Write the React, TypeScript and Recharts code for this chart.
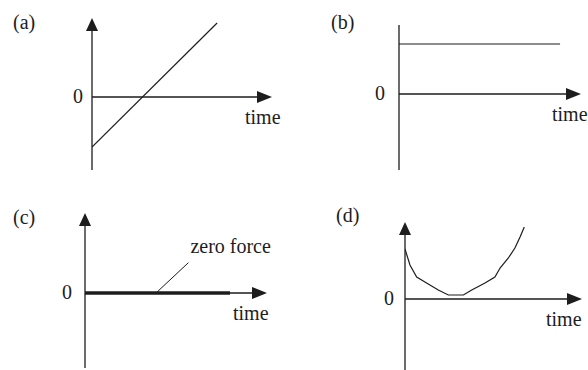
import React from 'react';
import { LineChart, Line, XAxis, YAxis, ReferenceLine } from 'recharts';

const W = 588;
const H = 370;

// (a) force grows steadily, crossing zero
const aTime = [0, 6.95];
const aForce = [-5.0, 7.4];
// (b) constant positive force
const bTime = [0, 8.85];
const bForce = [5.0, 5.0];
// (c) zero force all the way
const cTime = [0, 7.97];
const cForce = [0, 0];
// (d) force falls towards zero then rises again
const dTime = [0, 0.28, 0.66, 1.22, 1.88, 2.45, 3.3, 3.77, 4.52, 5.08, 5.37, 5.84, 6.21, 6.5, 6.74];
const dForce = [5.0, 3.4, 2.2, 1.6, 0.9, 0.4, 0.4, 0.9, 1.6, 2.2, 3.1, 4.1, 5.1, 6.2, 7.2];

// leader from the flat line in (c) up to its note
const noteTime = [3.96, 5.68];
const noteForce = [0.1, 3.03];

const panelLabels = ['(a)', '(b)', '(c)', '(d)'];
const zeroLabel = '0';
const timeLabel = 'time';
const noteLabel = 'zero force';

const ink = '#1d1d1d';
const font = '"Liberation Serif", "DejaVu Serif", serif';
const fontSize = 20;
const tMax = 10;
const pxPerUnit = 10;

type Layout = {
  x0: number; tipX: number; axisY: number; yTop: number; yBottom: number;
  arrowUp: boolean; labelX: number; labelY: number; zeroGap: number; timeShift: number;
};

const layouts: Layout[] = [
  { x0: 92, tipX: 272, axisY: 97, yTop: 18, yBottom: 170, arrowUp: true, labelX: 13, labelY: 29, zeroGap: 14, timeShift: -27 },
  { x0: 399, tipX: 581, axisY: 94, yTop: 25, yBottom: 170, arrowUp: false, labelX: 331, labelY: 28.5, zeroGap: 19, timeShift: -29 },
  { x0: 85, tipX: 267, axisY: 293, yTop: 213, yBottom: 368, arrowUp: true, labelX: 13, labelY: 224, zeroGap: 18, timeShift: -34 },
  { x0: 405, tipX: 582, axisY: 299, yTop: 222, yBottom: 372, arrowUp: true, labelX: 336, labelY: 222, zeroGap: 16, timeShift: -36 },
];

const rows = (ts: number[], fs: number[]) => ts.map((t, i) => ({ t, f: fs[i] }));

const textStyle = { fontFamily: font, fontSize, fill: ink };

const TimeAxis = (lay: Layout) => (p: any) => (
  <g>
    <line x1={p.x1} y1={p.y1} x2={p.x2 - 10} y2={p.y2} stroke={ink} strokeWidth={1.3} />
    <polygon points={`${p.x2},${p.y2} ${p.x2 - 15},${p.y2 - 6} ${p.x2 - 15},${p.y2 + 6}`} fill={ink} />
    <text x={p.x1 - lay.zeroGap} y={p.y1 + 6} textAnchor="middle" style={textStyle}>{zeroLabel}</text>
    <text x={p.x2 + lay.timeShift} y={p.y2 + 27} style={textStyle}>{timeLabel}</text>
  </g>
);

const ForceAxis = (lay: Layout, label: string) => (p: any) => (
  <g>
    <line x1={p.x1} y1={p.y1} x2={p.x2} y2={lay.arrowUp ? p.y2 + 10 : p.y2} stroke={ink} strokeWidth={1.3} />
    {lay.arrowUp && (
      <polygon points={`${p.x2},${p.y2} ${p.x2 - 6},${p.y2 + 13} ${p.x2 + 6},${p.y2 + 13}`} fill={ink} />
    )}
    <text x={lay.labelX} y={lay.labelY} style={textStyle}>{label}</text>
  </g>
);

const Leader = (p: any) => (
  <g>
    <line x1={p.x1} y1={p.y1} x2={p.x2} y2={p.y2} stroke={ink} strokeWidth={1} />
    <text x={p.x2 + 2} y={p.y2 - 10} style={textStyle}>{noteLabel}</text>
  </g>
);

const Panel = ({ idx, data, width = 1.2 }: { idx: number; data: { t: number; f: number }[]; width?: number }) => {
  const lay = layouts[idx];
  const yMax = (lay.axisY - lay.yTop) / pxPerUnit;
  const yMin = -(lay.yBottom - lay.axisY) / pxPerUnit;
  return (
    <div style={{ position: 'absolute', left: 0, top: 0 }}>
      <LineChart
        width={W}
        height={H}
        margin={{ left: lay.x0, right: W - lay.tipX, top: lay.yTop, bottom: H - lay.yBottom }}
      >
        <XAxis dataKey="t" type="number" domain={[0, tMax]} allowDataOverflow hide />
        <YAxis type="number" domain={[yMin, yMax]} allowDataOverflow hide />
        <ReferenceLine
          segment={[{ x: 0, y: yMin }, { x: 0, y: yMax }]}
          ifOverflow="visible"
          shape={ForceAxis(lay, panelLabels[idx])}
        />
        <ReferenceLine
          segment={[{ x: 0, y: 0 }, { x: tMax, y: 0 }]}
          ifOverflow="visible"
          shape={TimeAxis(lay)}
        />
        {idx === 2 && (
          <ReferenceLine
            segment={[{ x: noteTime[0], y: noteForce[0] }, { x: noteTime[1], y: noteForce[1] }]}
            ifOverflow="visible"
            shape={Leader}
          />
        )}
        <Line
          data={data}
          dataKey="f"
          type="linear"
          stroke={ink}
          strokeWidth={width}
          dot={false}
          activeDot={false}
          isAnimationActive={false}
        />
      </LineChart>
    </div>
  );
};

export default function App() {
  return (
    <div style={{ position: 'absolute', left: 0, top: 0, width: W, height: H, overflow: 'hidden', background: '#fff' }}>
      <Panel idx={0} data={rows(aTime, aForce)} />
      <Panel idx={1} data={rows(bTime, bForce)} />
      <Panel idx={2} data={rows(cTime, cForce)} width={3.5} />
      <Panel idx={3} data={rows(dTime, dForce)} />
    </div>
  );
}
